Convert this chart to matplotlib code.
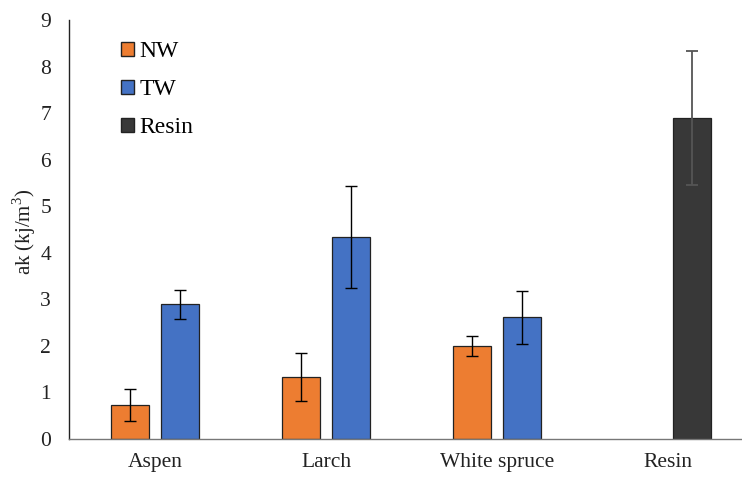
import matplotlib
matplotlib.use("Agg")
import matplotlib.pyplot as plt
from matplotlib.patches import Patch

plt.rcParams['font.family'] = ['Liberation Serif', 'DejaVu Serif']
plt.rcParams['mathtext.fontset'] = 'custom'
plt.rcParams['mathtext.rm'] = 'Liberation Serif'

categories = ["Aspen", "Larch", "White spruce", "Resin"]
cat_pos = [0, 1, 2, 3]
resin_shift = 0.138
nw_vals = [0.73, 1.33, 2.00]
nw_err = [0.34, 0.52, 0.22]
tw_vals = [2.89, 4.34, 2.61]
tw_err = [0.32, 1.09, 0.56]
resin_val = [6.90]
resin_err = [1.44]

c_nw = "#ED7D31"
c_tw = "#4472C4"
c_rs = "#383838"

fig = plt.figure(figsize=(7.42, 4.8), dpi=100)
ax = fig.add_axes([69/742, 1 - 439/480, 1 - 69/742, 419/480])

w = 0.22
off = 0.146
ekw = dict(ecolor="black", elinewidth=1.0, capsize=4, capthick=1.0)
ax.bar([p - off for p in cat_pos[:3]], nw_vals, w, yerr=nw_err, color=c_nw,
       edgecolor="#222222", linewidth=0.9, error_kw=ekw, label="NW", zorder=2)
ax.bar([p + off for p in cat_pos[:3]], tw_vals, w, yerr=tw_err, color=c_tw,
       edgecolor="#222222", linewidth=0.9, error_kw=ekw, label="TW", zorder=2)
ax.bar([cat_pos[3] + resin_shift], resin_val, w, yerr=resin_err, color=c_rs,
       edgecolor="#222222", linewidth=0.9,
       error_kw=dict(ecolor="#555555", elinewidth=1.3, capsize=4, capthick=1.3),
       label="Resin", zorder=2)

ax.set_xlim(-0.503, 3.43)
ax.set_ylim(0, 9)
ax.set_yticks(range(0, 10))
ax.set_xticks(cat_pos)
ax.set_xticklabels(categories)
ax.tick_params(axis="both", length=0, labelsize=15.5, colors="#222222")
ax.tick_params(axis="x", pad=10)
ax.tick_params(axis="y", pad=13)
for s in ["top", "right"]:
    ax.spines[s].set_visible(False)
ax.spines["left"].set_color("#222222")
ax.spines["left"].set_linewidth(1.0)
ax.spines["bottom"].set_color("#777777")
ax.spines["bottom"].set_linewidth(1.0)

ax.set_ylabel("ak (kj/m$^{3}$)", fontsize=15, color="#222222")
ax.yaxis.set_label_coords(-0.0455, 0.494)

handles = [Patch(facecolor=c_nw, edgecolor="#222222", label="NW"),
           Patch(facecolor=c_tw, edgecolor="#222222", label="TW"),
           Patch(facecolor=c_rs, edgecolor="#222222", label="Resin")]
leg = ax.legend(handles=handles, loc="upper left", bbox_to_anchor=(0.046, 1.0),
                frameon=False, fontsize=17, handlelength=0.56, handleheight=0.56,
                handletextpad=0.2, labelspacing=0.72)

fig.savefig("out.png", dpi=100)
